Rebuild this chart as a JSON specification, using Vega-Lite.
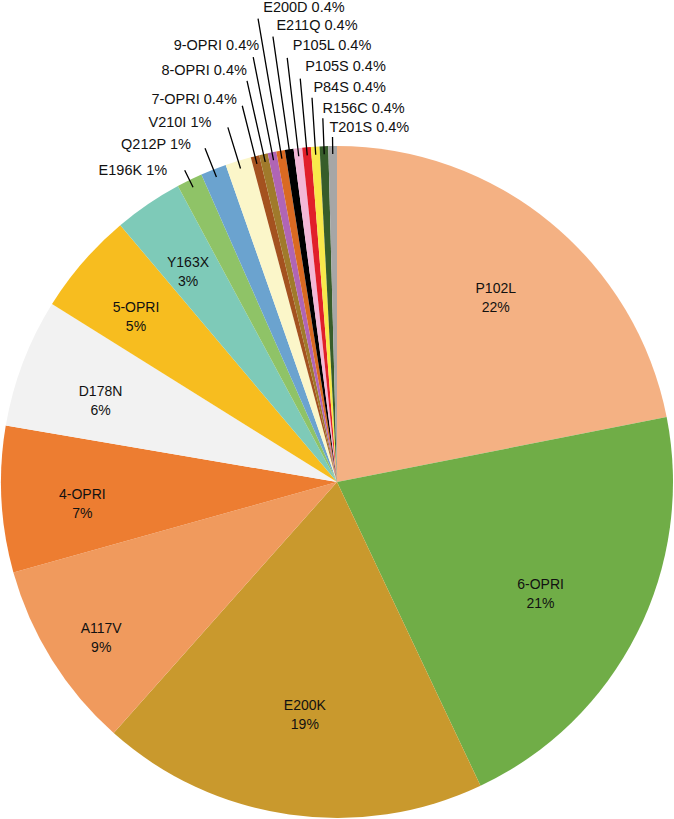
{
  "$schema": "https://vega.github.io/schema/vega-lite/v6.json",
  "width": 674,
  "height": 672,
  "autosize": "none",
  "padding": {"top": 146, "left": 0, "right": 0, "bottom": 1},
  "background": "white",
  "config": {"view": {"stroke": null}, "font": "Liberation Sans"},
  "params": [
    {"name": "LR", "value": {"P102L": 250, "6-OPRI": 228, "E200K": 226, "A117V": 278, "4-OPRI": 255, "D178N": 253, "5-OPRI": 266, "Y163X": 265,
      "E196K": 346, "Q212P": 362, "V210I": 376, "7-OPRI": 394, "8-OPRI": 421, "9-OPRI": 444, "E200D": 481, "E211Q": 461, "P105L": 439, "P105S": 417, "P84S": 395, "R156C": 373, "T201S": 354}},
    {"name": "LL", "value": {"E196K": 347, "Q212P": 359, "V210I": 371, "7-OPRI": 388, "8-OPRI": 411, "9-OPRI": 433, "E200D": 470, "E211Q": 450, "P105L": 427, "P105S": 405, "P84S": 385, "R156C": 364, "T201S": 345}},
    {"name": "DX", "value": {"E196K": -18, "Q212P": -13, "V210I": -15, "7-OPRI": -4, "8-OPRI": 2, "9-OPRI": 8, "E200D": 7, "E211Q": 5, "P105L": 7, "P105S": 6, "P84S": 2, "R156C": 0, "T201S": -3}},
    {"name": "LEFTG", "value": ["E196K", "Q212P", "V210I", "7-OPRI", "8-OPRI", "9-OPRI"]}
  ],
  "data": {
    "values": [
      {"name": "P102L", "count": 53, "pct": "22%"},
      {"name": "6-OPRI", "count": 51, "pct": "21%"},
      {"name": "E200K", "count": 45, "pct": "19%"},
      {"name": "A117V", "count": 22, "pct": "9%"},
      {"name": "4-OPRI", "count": 17, "pct": "7%"},
      {"name": "D178N", "count": 15, "pct": "6%"},
      {"name": "5-OPRI", "count": 12, "pct": "5%"},
      {"name": "Y163X", "count": 8, "pct": "3%"},
      {"name": "E196K", "count": 3, "pct": "1%"},
      {"name": "Q212P", "count": 3, "pct": "1%"},
      {"name": "V210I", "count": 3, "pct": "1%"},
      {"name": "7-OPRI", "count": 1, "pct": "0.4%"},
      {"name": "8-OPRI", "count": 1, "pct": "0.4%"},
      {"name": "9-OPRI", "count": 1, "pct": "0.4%"},
      {"name": "E200D", "count": 1, "pct": "0.4%"},
      {"name": "E211Q", "count": 1, "pct": "0.4%"},
      {"name": "P105L", "count": 1, "pct": "0.4%"},
      {"name": "P105S", "count": 1, "pct": "0.4%"},
      {"name": "P84S", "count": 1, "pct": "0.4%"},
      {"name": "R156C", "count": 1, "pct": "0.4%"},
      {"name": "T201S", "count": 1, "pct": "0.4%"}
    ]
  },
  "transform": [
    {"window": [{"op": "row_number", "as": "idx"}]},
    {"calculate": "datum.count >= 8 ? datum.name + '\\n' + datum.pct : ''", "as": "tin"},
    {"calculate": "datum.count < 8 ? datum.name + ' ' + datum.pct : ''", "as": "tout"}
  ],
  "encoding": {
    "theta": {"field": "count", "type": "quantitative", "stack": true},
    "order": {"field": "idx", "type": "quantitative"}
  },
  "layer": [
    {
      "mark": {"type": "arc", "radius": 336},
      "encoding": {
        "color": {
          "field": "name", "type": "nominal", "legend": null,
          "scale": {
            "domain": ["P102L", "6-OPRI", "E200K", "A117V", "4-OPRI", "D178N", "5-OPRI", "Y163X", "E196K", "Q212P", "V210I", "7-OPRI", "8-OPRI", "9-OPRI", "E200D", "E211Q", "P105L", "P105S", "P84S", "R156C", "T201S"],
            "range": ["#F4B183", "#70AD47", "#C9992D", "#F09A5D", "#ED7D31", "#F2F2F2", "#F7BD1F", "#7ECAB8", "#8FC367", "#6BA3CF", "#FBF6C9", "#A4521F", "#A07A2B", "#B065B5", "#DA6A22", "#000000", "#F3B7D6", "#E11F2A", "#F8E84B", "#375D2A", "#A6A6A6"]
          }
        }
      }
    },
    {
      "mark": {"type": "arc", "padAngle": 3, "fillOpacity": 0, "strokeWidth": 1.3, "radius": {"expr": "LL[datum.name] || 328"}, "radius2": 328},
      "encoding": {
        "stroke": {"condition": {"test": "datum.count < 8", "value": "#000000"}, "value": "transparent"}
      }
    },
    {
      "mark": {"type": "text", "fontSize": 14, "lineBreak": "\n", "lineHeight": 19, "align": "center", "baseline": "middle", "color": "#111111", "radius": {"expr": "LR[datum.name]"}},
      "encoding": {"text": {"field": "tin", "type": "nominal"}}
    },
    {
      "mark": {"type": "text", "fontSize": 14.5, "baseline": "middle", "color": "#111111",
        "radius": {"expr": "LR[datum.name]"},
        "dx": {"expr": "DX[datum.name] || 0"},
        "align": {"expr": "indexof(LEFTG, datum.name) >= 0 ? 'right' : 'left'"}},
      "encoding": {"text": {"field": "tout", "type": "nominal"}}
    }
  ]
}
